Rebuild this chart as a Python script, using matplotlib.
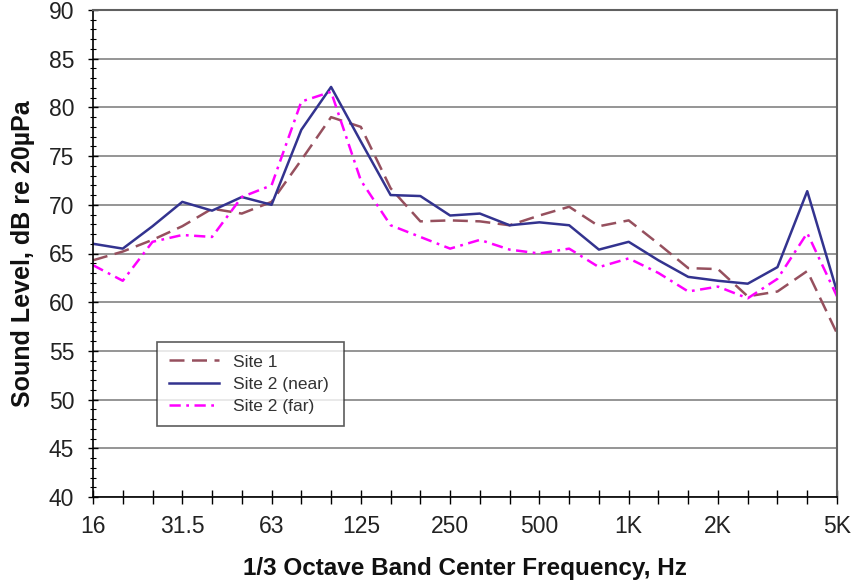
import matplotlib
matplotlib.use("Agg")
import matplotlib.pyplot as plt
from matplotlib.ticker import MultipleLocator, FixedLocator

plt.rcParams['font.family'] = ['Liberation Sans', 'DejaVu Sans']

bands = ["16", "20", "25", "31.5", "40", "50", "63", "80", "100", "125", "160", "200",
         "250", "315", "400", "500", "630", "800", "1K", "1.25K", "1.6K", "2K", "2.5K",
         "3.15K", "4K", "5K"]
shown_labels = ["16", "31.5", "63", "125", "250", "500", "1K", "2K", "5K"]

site1 = [64.3, 65.2, 66.4, 67.8, 69.6, 69.1, 70.3, 74.6, 79.0, 78.0, 71.7, 68.3, 68.4,
         68.3, 67.9, 68.9, 69.8, 67.8, 68.4, 66.0, 63.5, 63.4, 60.6, 61.1, 63.2, 56.8]
site2_near = [66.0, 65.5, 67.8, 70.3, 69.4, 70.8, 70.0, 77.7, 82.1, 76.5, 71.0, 70.9, 68.9,
              69.1, 67.9, 68.2, 67.9, 65.4, 66.2, 64.3, 62.6, 62.2, 61.9, 63.6, 71.4, 61.1]
site2_far = [63.8, 62.2, 66.2, 66.9, 66.7, 70.8, 72.0, 80.6, 81.6, 72.5, 67.9, 66.7, 65.5,
             66.4, 65.4, 65.0, 65.5, 63.6, 64.5, 63.0, 61.1, 61.6, 60.4, 62.4, 67.1, 60.6]

fig = plt.figure(figsize=(8.57, 5.87), dpi=100)
ax = fig.add_axes([93/857, 90/587, 744/857, 487/587])

x = list(range(len(bands)))
ax.plot(x, site1, color='#96505E', lw=1.8, dashes=(6, 3), label='Site 1')
ax.plot(x, site2_near, color='#33338F', lw=1.8, label='Site 2 (near)')
ax.plot(x, site2_far, color='#FF00FF', lw=1.8, dashes=(4.5, 2.2, 1.1, 2.2), label='Site 2 (far)')

ax.set_xlim(0, len(bands) - 1)
ax.set_ylim(40, 90)

ax.yaxis.set_major_locator(MultipleLocator(5))
ax.yaxis.set_minor_locator(MultipleLocator(1))
ax.grid(axis='y', which='major', color='#8c8c8c', lw=1.3)
ax.set_axisbelow(True)

ax.xaxis.set_major_locator(FixedLocator(x))
ax.set_xticklabels([b if b in shown_labels else "" for b in bands])

ax.tick_params(axis='y', which='major', direction='inout', length=7, width=1, labelsize=16.5, pad=10,
               labelcolor='#222222')
ax.tick_params(axis='y', which='minor', direction='inout', length=5, width=0.8)
ax.tick_params(axis='x', which='major', direction='inout', length=10, width=1, labelsize=16.5, pad=8,
               labelcolor='#222222')

for s in ['left', 'bottom']:
    ax.spines[s].set_color('black')
    ax.spines[s].set_linewidth(1.2)
for s in ['top', 'right']:
    ax.spines[s].set_color('#606060')
    ax.spines[s].set_linewidth(1.5)

ax.set_xlabel("1/3 Octave Band Center Frequency, Hz", fontsize=17.5, fontweight='bold', labelpad=14,
              color='#111111')
ax.set_ylabel("Sound Level, dB re 20\u00b5Pa", fontsize=18, fontweight='bold', labelpad=10,
              color='#111111')

leg = ax.legend(loc='lower left', bbox_to_anchor=(0.086, 0.146, 0.251, 0.189), mode='expand',
                fontsize=12.5, frameon=True, fancybox=False, edgecolor='#333333',
                handlelength=2.9, borderpad=0.7, labelspacing=0.4, borderaxespad=0)
leg.get_frame().set_linewidth(1.2)
for t in leg.get_texts():
    t.set_color('#333333')

fig.savefig("out.png", dpi=100)
